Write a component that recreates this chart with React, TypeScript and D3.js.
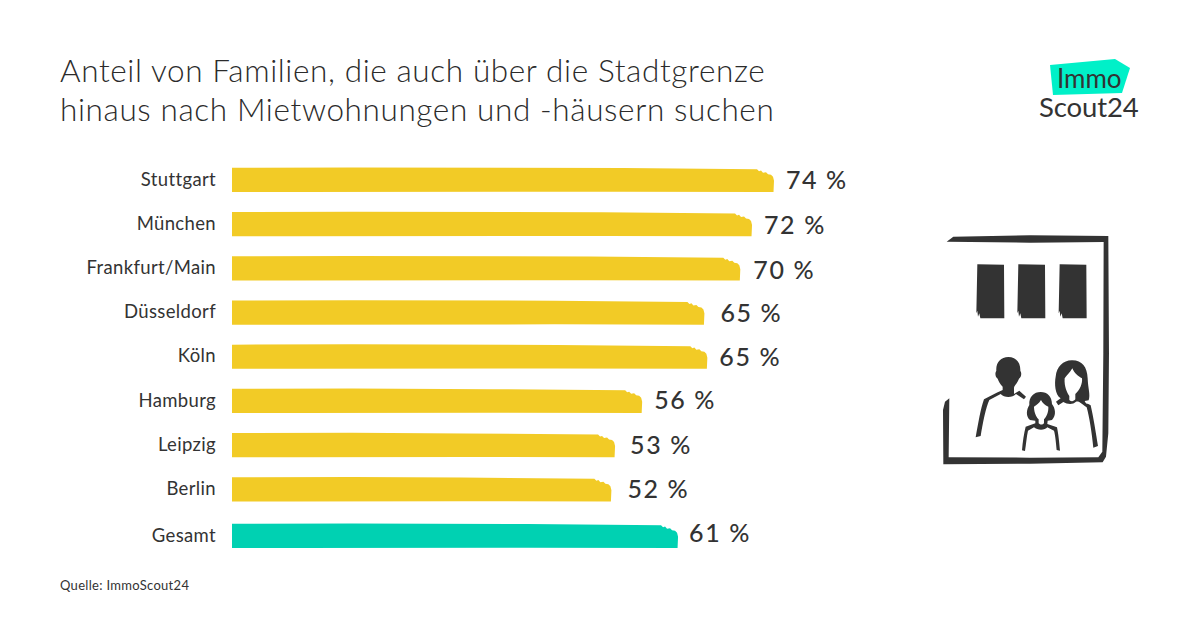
import React from "react";
import * as d3 from "d3";

const categories = ["Stuttgart", "München", "Frankfurt/Main", "Düsseldorf", "Köln", "Hamburg", "Leipzig", "Berlin", "Gesamt"];
const drawnValues = [74, 71, 69.4, 64.5, 64.9, 56, 52.3, 51.8, 60.9];
const valueLabels = ["74 %", "72 %", "70 %", "65 %", "65 %", "56 %", "53 %", "52 %", "61 %"];
const titleLines = ["Anteil von Familien, die auch über die Stadtgrenze", "hinaus nach Mietwohnungen und -häusern suchen"];
const source = "Quelle: ImmoScout24";

const YELLOW = "#f2cb26";
const TEAL = "#00d1b2";
const INK = "#333333";
const FONT = "Lato, 'Open Sans', sans-serif";

const x = d3.scaleLinear().domain([0, 74]).range([232, 774]);
const cities = categories.slice(0, 8);
const yCity = d3.scalePoint<string>().domain(cities).range([180, 489.5]);
const y = (c: string) => (c === "Gesamt" ? 536 : yCity(c)!);
const labelDx = [12, 12, 13, 16, 12, 12, 15, 16, 11];
const labelDy = [0, 0.5, 1.5, 0, 0, -1, 0, -0.5, -3];

function brushBar(x0: number, x1: number, cy: number) {
  const t = cy - 12.2, b = cy + 12;
  const pts: [number, number][] = [
    [x0, t], [x0 + 120, t - 0.3], [x1 - 150, t + 0.3], [x1 - 17, t + 1.5], [x1 - 15, t + 3.5], [x1 - 13, t + 2.8], [x1 - 11, t + 5], [x1 - 8, t + 4.5],
    [x1 - 6, t + 6.5], [x1 - 3, t + 7], [x1 - 1, t + 9], [x1, t + 13], [x1 - 0.5, b],
    [x1 - 150, b - 0.3], [x0 + 60, b], [x0, b],
  ];
  return d3.line()(pts) + "Z";
}

const frame = "M50,65 L70,50 L300,46 L535,48 L537,400 L535,640 L528,710 L518,727 L300,731 L40,733 L39,570 L45,545 L58,535 L56,712 L300,713 L505,712 L517,695 L520,400 L521,66 L300,68 Z";
const windowShape = (l: number) => `M${l + 3},133 L${l + 83},134 L${l + 84},295 L${l + 12},295 L${l + 9},280 L${l + 5},290 L${l + 3},272 L${l},280 Z`;
const manHead = "M235,411 C258,411 272,428 271,452 C276,458 274,472 267,476 C262,490 252,497 252,503 L252,522 L268,512 L288,530 L282,538 L258,522 C248,534 222,534 212,522 L178,540 C168,560 158,610 152,648 L137,652 C145,610 152,565 162,538 L200,518 L218,510 L218,500 C210,492 206,484 203,476 C196,472 194,458 199,452 C197,428 212,411 235,411 Z";
const woman = "M425,421 C455,420 472,440 473,475 C474,505 482,525 476,541 L464,543 C470,555 470,548 482,556 C490,590 498,640 504,678 L490,683 C486,640 478,590 470,562 C450,548 445,542 437,546 C430,554 412,554 400,546 L385,556 L378,545 L392,535 C375,525 373,490 377,470 C380,440 400,421 425,421 Z M427,445 C420,458 410,465 404,475 C402,500 412,520 418,528 L418,540 C424,546 432,544 436,538 L436,522 C450,510 458,490 456,475 C445,470 432,458 427,445 Z";
const girl = "M332,516 C352,516 366,530 366,552 C376,565 380,585 366,600 L353,602 L352,612 L381,622 C385,640 388,670 390,692 L380,690 C378,670 376,645 372,632 L352,622 C345,632 322,632 312,622 L294,632 C290,650 288,675 285,693 L276,691 C278,665 282,640 287,620 L316,610 L316,602 L300,600 C286,588 290,568 298,555 C296,530 312,516 332,516 Z M333,540 C328,550 318,555 312,560 C312,580 322,595 326,598 L326,610 C332,616 338,614 342,610 L342,598 C350,590 356,575 355,560 C345,556 338,550 333,540 Z";

export default function App() {
  return (
    <svg width={1200} height={630} style={{ position: "absolute", left: 0, top: 0, background: "#fff" }} fontFamily={FONT}>
      {titleLines.map((t, i) => (
        <text key={t} x={60} y={82 + i * 39} fontSize={31.5} fontWeight={300} fill="#2b2b2b" letterSpacing={0.62}>{t}</text>
      ))}
      {categories.map((c, i) => {
        const cy = y(c);
        const x1 = x(drawnValues[i]);
        return (
          <g key={c}>
            <text x={216} y={cy + 5.6} textAnchor="end" fontSize={18.5} fill={INK} letterSpacing={0.35}>{c}</text>
            <path d={brushBar(x(0), x1, cy)} fill={c === "Gesamt" ? TEAL : YELLOW} />
            <text x={x1 + labelDx[i]} y={cy + 9 + labelDy[i]} fontSize={25} fontWeight={500} fill={INK} letterSpacing={1.6}>{valueLabels[i]}</text>
          </g>
        );
      })}
      <text x={60} y={590} fontSize={13} fill={INK} letterSpacing={0.3}>{source}</text>
      <g>
        <polygon points="1050,65 1115,59 1130,68 1122,93 1053,95" fill="#00f0c8" />
        <text x={1057} y={88} fontSize={26} fontFamily="Lato, sans-serif" fill={INK} letterSpacing={0}>Immo</text>
        <text x={1039} y={117} fontSize={27.5} fontFamily="Lato, sans-serif" fill={INK} letterSpacing={-0.1}>Scout24</text>
      </g>
      <g transform="translate(930,220) scale(0.3333)" fill={INK}>
        <path d={frame} />
        {[139, 262, 386].map((l) => <path key={l} d={windowShape(l)} />)}
        <path d={manHead} />
        <path d={woman} fillRule="evenodd" />
        <path d={girl} fillRule="evenodd" />
      </g>
    </svg>
  );
}
